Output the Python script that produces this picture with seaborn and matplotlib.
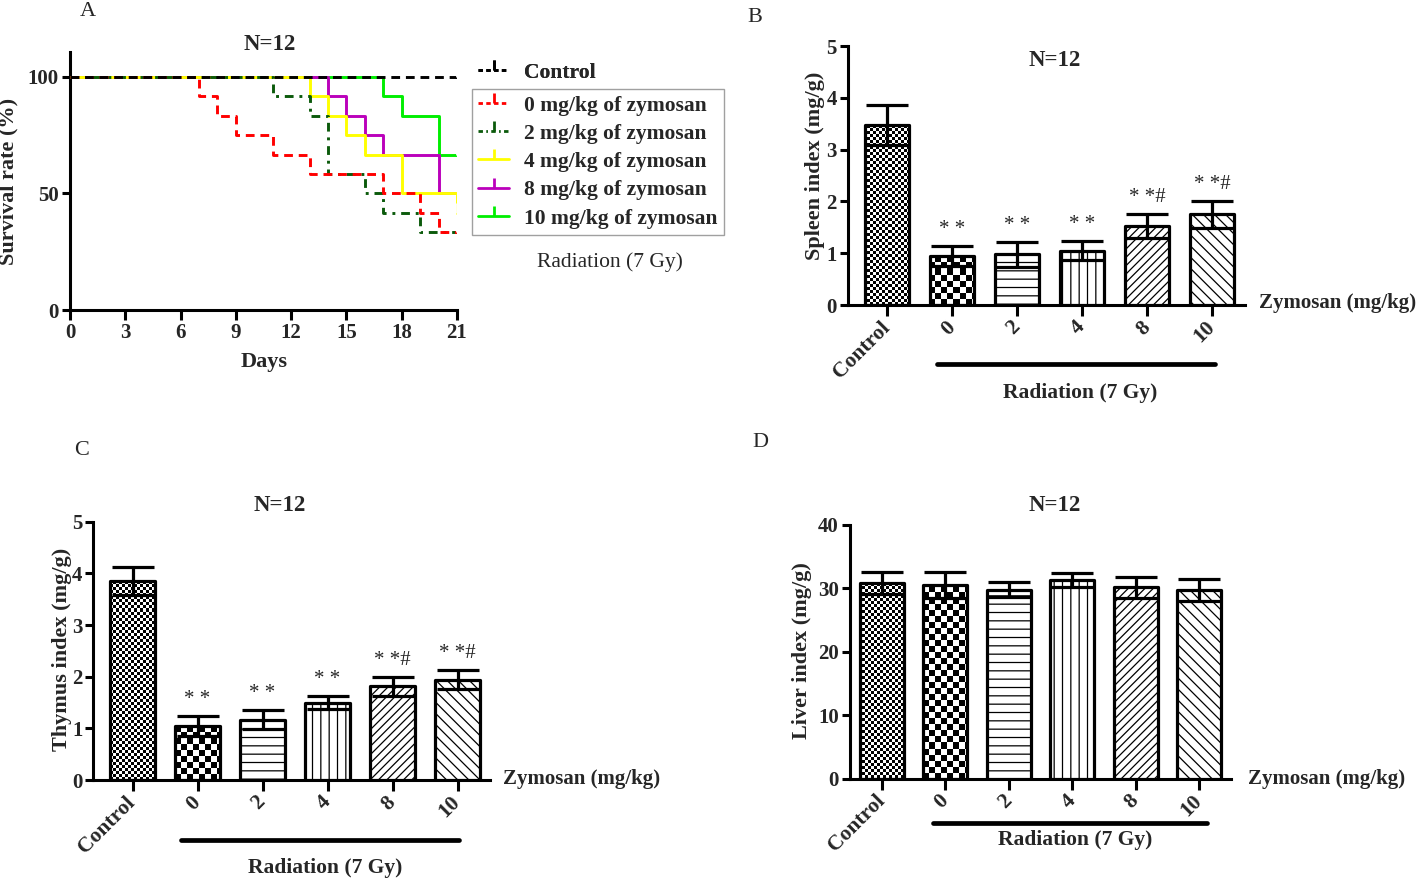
import numpy as np
import pandas as pd
import matplotlib
matplotlib.use("Agg")
import matplotlib.pyplot as plt
from matplotlib.lines import Line2D
import seaborn as sns

# ---------------- data ----------------
# Panel A: Kaplan-Meier survival (%), N=12
surv_groups = ["Control", "0 mg/kg of zymosan", "2 mg/kg of zymosan",
               "4 mg/kg of zymosan", "8 mg/kg of zymosan", "10 mg/kg of zymosan"]
days_control = [0, 21]
surv_control = [100, 100]
days_z0 = [0, 7, 8, 9, 11, 13, 17, 19, 20, 21]
surv_z0 = [100, 91.67, 83.33, 75, 66.67, 58.33, 50, 41.67, 33.33, 33.33]
days_z2 = [0, 11, 13, 14, 16, 17, 19, 21]
surv_z2 = [100, 91.67, 83.33, 58.33, 50, 41.67, 33.33, 33.33]
days_z4 = [0, 13, 14, 15, 16, 18, 21]
surv_z4 = [100, 91.67, 83.33, 75, 66.67, 50, 41.67]
days_z8 = [0, 14, 15, 16, 17, 20, 21]
surv_z8 = [100, 91.67, 83.33, 75, 66.67, 50, 50]
days_z10 = [0, 17, 18, 20, 21]
surv_z10 = [100, 91.67, 83.33, 66.67, 66.67]

# Bar panels
bar_cats = ["Control", "0", "2", "4", "8", "10"]
spleen_mean = [3.47, 0.95, 0.98, 1.05, 1.53, 1.75]
spleen_sd = [0.39, 0.19, 0.24, 0.19, 0.23, 0.26]
spleen_sig = ["", "* *", "* *", "* *", "* *#", "* *#"]
thymus_mean = [3.86, 1.04, 1.17, 1.50, 1.81, 1.94]
thymus_sd = [0.27, 0.19, 0.19, 0.13, 0.19, 0.18]
thymus_sig = ["", "* *", "* *", "* *", "* *#", "* *#"]
liver_mean = [30.8, 30.6, 29.8, 31.3, 30.2, 29.7]
liver_sd = [1.75, 2.05, 1.15, 1.15, 1.65, 1.75]

# ---------------- style ----------------
sns.set_theme(style="ticks")
plt.rcParams["font.family"] = ["Liberation Serif", "DejaVu Serif"]
plt.rcParams["hatch.linewidth"] = 0.9
plt.rcParams["axes.linewidth"] = 2.2

W, H = 1418, 880
fig = plt.figure(figsize=(W / 100, H / 100), dpi=100)


def fx(x):
    return x / W


def fy(y):
    return 1 - y / H


def ax_at(x0, y_top, x1, y_bot):
    return fig.add_axes([fx(x0), fy(y_bot), fx(x1) - fx(x0), (y_bot - y_top) / H])


def style_axes(ax, fs=14):
    for s in ["top", "right"]:
        ax.spines[s].set_visible(False)
    for s in ["left", "bottom"]:
        ax.spines[s].set_linewidth(2.2)
        ax.spines[s].set_color("black")
    ax.tick_params(axis="both", direction="out", length=6, width=2.2,
                   color="black", labelsize=fs, pad=2)
    for lab in ax.get_xticklabels() + ax.get_yticklabels():
        lab.set_fontweight("bold")
    ax.set_facecolor("white")


# ---------------- Panel A ----------------
axA = ax_at(70, 52, 457, 310)
series = [
    (days_control, surv_control, "black", (0, (3, 2))),
    (days_z10, surv_z10, "#00ee00", "-"),
    (days_z8, surv_z8, "#bb00bb", "-"),
    (days_z4, surv_z4, "#ffff00", "-"),
    (days_z2, surv_z2, "#0b5a0b", (0, (3, 2, 1, 2))),
    (days_z0, surv_z0, "#ff0000", (0, (3, 2))),
]
zord = [8, 3, 4, 5, 6, 7]
for (d, s, c, ls), z in zip(series, zord):
    sns.lineplot(x=d, y=s, ax=axA, color=c, linestyle=ls, linewidth=2.1,
                 drawstyle="steps-post", estimator=None, sort=False,
                 legend=False, zorder=z, marker=2, markevery=[len(d) - 1],
                 markersize=7, markeredgewidth=2.0)
axA.set_xlim(0, 21)
axA.set_ylim(0, 110.7)
axA.set_xticks(range(0, 22, 3))
axA.set_yticks([0, 50, 100])
axA.set_xlabel("")
axA.set_ylabel("Survival rate (%)", fontsize=16, fontweight="bold")
axA.yaxis.set_label_coords(-0.134, 0.5)
style_axes(axA, fs=15)
axA.tick_params(axis="x", length=7)

fig.text(fx(264), fy(362), "Days", fontsize=16, fontweight="bold",
         ha="center", va="center")

# Legends
leg_colors = ["black", "#ff0000", "#0b5a0b", "#ffff00", "#bb00bb", "#00ee00"]
leg_ls = [(0, (1.6, 1.2)), (0, (1.6, 1.2)), (0, (1.6, 1.2, 0.6, 1.2)), "-", "-", "-"]
handles = [Line2D([], [], color=c, linestyle=l, linewidth=2.0, marker=2,
                  markersize=7, markeredgewidth=2.0)
           for c, l in zip(leg_colors, leg_ls)]
leg1 = fig.legend(handles[:1], surv_groups[:1], loc="upper left",
                  bbox_to_anchor=(fx(472), fy(56)), frameon=False,
                  prop={"size": 15.5, "weight": "bold"}, handlelength=1.4,
                  handletextpad=0.7, borderaxespad=0, borderpad=0.3)
leg2 = fig.legend(handles[1:], surv_groups[1:], loc="upper left",
                  bbox_to_anchor=(fx(472), fy(89)), frameon=True,
                  fancybox=False, edgecolor="#888888",
                  prop={"size": 15.5, "weight": "bold"}, handlelength=1.4,
                  handletextpad=0.7, borderaxespad=0, borderpad=0.3,
                  labelspacing=0.38)
leg2.get_frame().set_linewidth(1.0)
fig.add_artist(leg1)
fig.text(fx(610), fy(262), "Radiation (7 Gy)", fontsize=15.5,
         ha="center", va="center")


# ---------------- bar panels ----------------
def checker(ax, patch, cell):
    x0, y0 = patch.get_x(), patch.get_y()
    w, h = patch.get_width(), patch.get_height()
    (px0, py0) = ax.transData.transform((x0, y0))
    (px1, py1) = ax.transData.transform((x0 + w, y0 + h))
    px0 = np.floor(px0)
    py0 = np.floor(py0)
    nx = int(np.ceil((px1 - px0) / cell)) + 1
    ny = int(np.ceil((py1 - py0) / cell)) + 1
    arr = np.add.outer(np.arange(ny), np.arange(nx)) % 2
    inv = ax.transData.inverted()
    ex0, ey0 = inv.transform((px0, py0))
    ex1, ey1 = inv.transform((px0 + nx * cell, py0 + ny * cell))
    im = ax.imshow(arr, extent=(ex0, ex1, ey0, ey1), origin="lower",
                   cmap="gray", vmin=0, vmax=1, interpolation="nearest",
                   aspect="auto", zorder=2)
    im.set_clip_path(patch)


hatches = [None, None, "--", "||", "////", "\\\\\\"]
checker_cells = {0: 3, 1: 6}


def bar_panel(ax, means, sds, sig, ylim, yticks, ylabel, label_y, label_x,
              xlim, sig_offset):
    df = pd.DataFrame({"group": bar_cats, "value": means})
    sns.barplot(data=df, x="group", y="value", ax=ax, color="white",
                saturation=1, edgecolor="black", linewidth=2.3, width=0.69,
                errorbar=None, order=bar_cats)
    ax.set_xlim(*xlim)
    ax.set_ylim(*ylim)
    patches = list(ax.patches)
    for i, p in enumerate(patches):
        p.set_zorder(3)
        p.set_joinstyle("round")
        if i in checker_cells:
            p.set_facecolor("none")
            checker(ax, p, checker_cells[i])
        elif hatches[i]:
            p.set_hatch(hatches[i])
    pos = np.arange(len(bar_cats))
    ax.errorbar(pos, means, yerr=sds, fmt="none", ecolor="black",
                elinewidth=2.3, capsize=15, capthick=2.3, zorder=5)
    for i, t in enumerate(sig):
        if t:
            ax.annotate(t, (pos[i], means[i] + sds[i]), xytext=(0, sig_offset),
                        textcoords="offset points", ha="center", va="center",
                        fontsize=15)
    ax.set_xlim(*xlim)
    ax.set_ylim(*ylim)
    ax.set_yticks(yticks)
    ax.set_xlabel("")
    ax.set_ylabel(ylabel, fontsize=16, fontweight="bold")
    ax.yaxis.set_label_coords(label_x, label_y)
    style_axes(ax, fs=15)
    ax.tick_params(axis="x", length=8, pad=6)
    for lab in ax.get_xticklabels():
        lab.set_rotation(45)
        lab.set_ha("right")
        lab.set_va("center")
        lab.set_rotation_mode("anchor")
        lab.set_fontsize(15.5)
        lab.set_fontweight("bold")


def zymo_annot(x_z, y_z, x0, x1, y_line, x_txt, y_txt, ha="left"):
    fig.text(fx(x_z), fy(y_z), "Zymosan (mg/kg)", fontsize=15,
             fontweight="bold", ha=ha, va="center")
    fig.add_artist(Line2D([fx(x0), fx(x1)], [fy(y_line), fy(y_line)],
                          color="black", linewidth=3.4,
                          transform=fig.transFigure))
    fig.text(fx(x_txt), fy(y_txt), "Radiation (7 Gy)", fontsize=15.5,
             fontweight="bold", ha="center", va="center")


# Panel B
axB = ax_at(848, 46, 1244.5, 305)
bar_panel(axB, spleen_mean, spleen_sd, spleen_sig, (0, 5), range(0, 6),
          "Spleen index (mg/g)", 0.537, -0.058, (-0.6, 5.5), 12)
zymo_annot(1416, 303, 937, 1215, 364, 1080, 393, ha="right")

# Panel C
axC = ax_at(93.5, 521.7, 490, 780)
bar_panel(axC, thymus_mean, thymus_sd, thymus_sig, (0, 5), range(0, 6),
          "Thymus index (mg/g)", 0.507, -0.054, (-0.6, 5.5), 12)
zymo_annot(503, 779, 181, 459, 840, 325, 868)

# Panel D
axD = ax_at(850, 525, 1231, 778.5)
bar_panel(axD, liver_mean, liver_sd, [""] * 6, (0, 40), range(0, 41, 10),
          "Liver index (mg/g)", 0.503, -0.1, (-0.5, 5.5), 12)
zymo_annot(1248, 779, 933, 1207, 823, 1075, 840)

# Panel letters and titles
for txt, x, y in [("A", 88, 12), ("B", 755, 18), ("C", 82, 450), ("D", 760, 442)]:
    fig.text(fx(x), fy(y), txt, fontsize=16, ha="center", va="center")
for x, y in [(270, 45), (1055, 60), (280, 505), (1055, 505)]:
    fig.text(fx(x), fy(y), "N=12", fontsize=16.5, fontweight="bold",
             ha="center", va="center")

fig.savefig("out.png", dpi=100, facecolor="white")
